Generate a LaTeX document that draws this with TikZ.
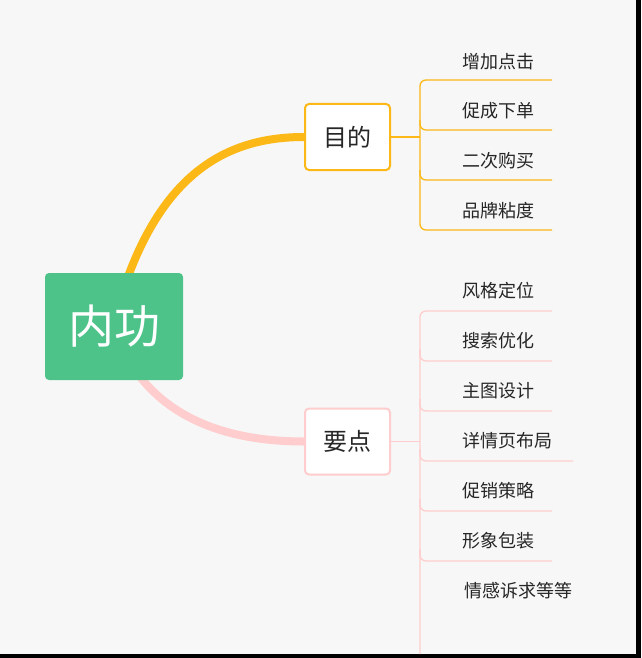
\documentclass[tikz,border=0pt]{standalone}
\usepackage{fontspec}
\setmainfont{Noto Sans CJK SC}
\begin{document}
\begin{tikzpicture}[x=1pt,y=-1pt,
  leaf/.style={font=\fontsize{18}{20}\selectfont, text=black!85, inner sep=0pt},
  mid/.style={draw, line width=2pt, fill=white, rounded corners=4pt, minimum width=85pt, minimum height=66pt, font=\fontsize{24}{26}\selectfont, text=black!85},
  yl/.style={draw=yel, line width=1.3pt, rounded corners=6pt},
  pl/.style={draw=pnk, line width=1.3pt, rounded corners=6pt}]
\definecolor{yel}{HTML}{FBB816}
\definecolor{pnk}{HTML}{FFCDCD}
\definecolor{grn}{HTML}{4DC38A}
\fill[black!3] (0,0) rectangle (641,658);
\useasboundingbox (0,0) rectangle (641,658);
\fill[black] (636,0) rectangle (641,658);
\fill[black] (0,654) rectangle (641,658);
% branch ends under the root
\coordinate (rt) at (125,285);
\coordinate (rb) at (135,370);
\node[mid, draw=yel] (a) at (347.5,137) {目的};
\node[mid, draw=pnk] (b) at (347.5,441.5) {要点};
\draw[yel, line width=8pt] (rt) .. controls (165,170) and (230,137) .. (a.west);
\draw[pnk, line width=8pt] (rb) .. controls (170,420) and (230,441.5) .. (b.west);
% root
\node[fill=grn, rounded corners=4pt, minimum width=138pt, minimum height=107pt, text=white, font=\fontsize{46}{48}\selectfont] (root) at (114,326.5) {内功};
% yellow leaves
\coordinate (ya) at (420,137);
\draw[yel, line width=1.3pt] (a.east) -- (ya);
\draw[yl] (552,80) -- (420,80) -- (420,230) -- (552,230);
\draw[yl] (420,120) -- (420,130) -- (552,130);
\draw[yl] (420,170) -- (420,180) -- (552,180);
\node[leaf] (y1) at (498,62) {增加点击};
\node[leaf] (y2) at (498,111) {促成下单};
\node[leaf] (y3) at (498,161) {二次购买};
\node[leaf] (y4) at (498,211) {品牌粘度};
% pink leaves
\coordinate (pa) at (420,441.5);
\draw[pnk, line width=1.3pt] (b.east) -- (pa);
\draw[pl] (552,311) -- (420,311) -- (420,654);
\foreach \y/\e in {361/552,411/552,461/573,511/552,561/552}{
  \draw[pl] (420,\y-12) -- (420,\y) -- (\e,\y);
}
\node[leaf] (p1) at (498,291) {风格定位};
\node[leaf] (p2) at (498,341) {搜索优化};
\node[leaf] (p3) at (498,391) {主图设计};
\node[leaf] (p4) at (507,441) {详情页布局};
\node[leaf] (p5) at (498,491) {促销策略};
\node[leaf] (p6) at (498,541) {形象包装};
\node[leaf] (p7) at (518,591) {情感诉求等等};
\end{tikzpicture}
\end{document}
